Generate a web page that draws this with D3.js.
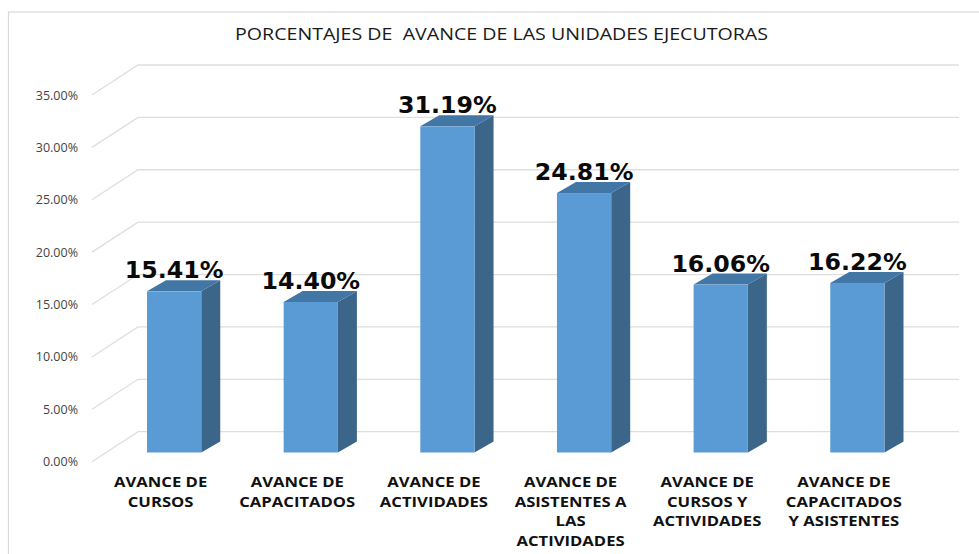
<!DOCTYPE html>
<html>
    <head>
        <style>
            body { margin: 0; background: #fff; }
            svg { display: block; }
            .title { font-family: 'Open Sans', sans-serif; font-size: 17px; fill: #1a1a1a; text-anchor: middle; white-space: pre; }
            .tick text { font-family: 'Open Sans', sans-serif; font-size: 12.5px; fill: #444; }
            .cat { font-family: 'Open Sans', sans-serif; font-size: 14px; font-weight: 700; fill: #111; text-anchor: middle; }
            .val { font-family: 'DejaVu Sans', sans-serif; font-size: 23.7px; font-weight: 700; fill: #0a0a0a; text-anchor: middle; }
        </style>
    </head>
    <body>
        <script src="https://d3js.org/d3.v7.min.js"></script>
        <script>
            const categories = [
                ['AVANCE DE', 'CURSOS'],
                ['AVANCE DE', 'CAPACITADOS'],
                ['AVANCE DE', 'ACTIVIDADES'],
                ['AVANCE DE', 'ASISTENTES A', 'LAS', 'ACTIVIDADES'],
                ['AVANCE DE', 'CURSOS Y', 'ACTIVIDADES'],
                ['AVANCE DE', 'CAPACITADOS', 'Y ASISTENTES']
            ];
            const values = [15.41, 14.40, 31.19, 24.81, 16.06, 16.22];
            const ticks = [0, 5, 10, 15, 20, 25, 30, 35];
            const title = 'PORCENTAJES DE  AVANCE DE LAS UNIDADES EJECUTORAS';

            const width = 979, height = 554;

            // fake 3d: wall depth and bar depth offsets
            const wallDx = 46, wallDy = -30;
            const barDx = 19, barDy = -11;
            const barBase = 452.5;

            const svg = d3.select('body').append('svg')
                .attr('width', width)
                .attr('height', height);

            const x = d3.scaleBand()
                .domain(d3.range(categories.length))
                .range([147, 884.5])
                .paddingInner(0.603)
                .paddingOuter(0);

            const y = d3.scaleLinear()
                .domain([0, 35])
                .range([461.7, 95]);

            // height of a value on the bar plane
            const h = v => y(0) - y(v) - v * 0.02;

            svg.append('rect')
                .attr('x', 8.5)
                .attr('y', 12)
                .attr('width', width + 10)
                .attr('height', height + 10)
                .attr('fill', 'none')
                .attr('stroke', '#d9d9d9')
                .attr('stroke-width', 1.2);

            svg.append('text')
                .attr('class', 'title')
                .attr('x', 501.5)
                .attr('y', 40)
                .attr('textLength', 533)
                .attr('lengthAdjust', 'spacingAndGlyphs')
                .text(title);

            const line = d3.line();

            svg.append('g').selectAll('path')
                .data(ticks)
                .join('path')
                .attr('d', d => line([
                    [92, y(d)],
                    [92 + wallDx, y(d) + wallDy],
                    [959, y(d) + wallDy]
                ]))
                .attr('fill', 'none')
                .attr('stroke', '#dedede')
                .attr('stroke-width', 1.3);

            const yAxis = d3.axisLeft(y)
                .tickValues(ticks)
                .tickSize(0)
                .tickPadding(14)
                .tickFormat(d => d3.format('.2f')(d) + '%');

            svg.append('g')
                .attr('transform', 'translate(92,0)')
                .call(yAxis)
                .call(g => g.select('.domain').remove());

            const bar = svg.append('g').selectAll('g')
                .data(values)
                .join('g');

            bar.append('path')
                .attr('fill', '#3b6589')
                .attr('d', (d, i) => {
                    const x1 = x(i) + x.bandwidth(), top = barBase - h(d);
                    return line([
                        [x1, top],
                        [x1 + barDx, top + barDy],
                        [x1 + barDx, barBase + barDy],
                        [x1, barBase]
                    ]) + 'Z';
                });

            bar.append('path')
                .attr('fill', '#4276a5')
                .attr('d', (d, i) => {
                    const x0 = x(i), x1 = x0 + x.bandwidth(), top = barBase - h(d);
                    return line([
                        [x0, top],
                        [x0 + barDx, top + barDy],
                        [x1 + barDx, top + barDy],
                        [x1, top]
                    ]) + 'Z';
                });

            bar.append('rect')
                .attr('x', (d, i) => x(i))
                .attr('y', d => barBase - h(d))
                .attr('width', x.bandwidth())
                .attr('height', d => h(d))
                .attr('fill', '#5b9bd5');

            bar.append('text')
                .attr('class', 'val')
                .attr('x', (d, i) => x(i) + x.bandwidth() / 2)
                .attr('y', d => barBase - h(d) - 13)
                .text(d => d3.format('.2f')(d) + '%');

            // labels in the original are stretched sideways
            svg.append('g').selectAll('text')
                .data(categories)
                .join('text')
                .attr('class', 'cat')
                .attr('transform', (d, i) => `translate(${x(i) + x.bandwidth() / 2 - 13.5},0) scale(1.19,1)`)
                .each(function(d) {
                    d3.select(this).selectAll('tspan')
                        .data(d)
                        .join('tspan')
                        .attr('x', 0)
                        .attr('y', (t, j) => 487 + j * 19.7)
                        .text(t => t);
                });
        </script>
    </body>
</html>
